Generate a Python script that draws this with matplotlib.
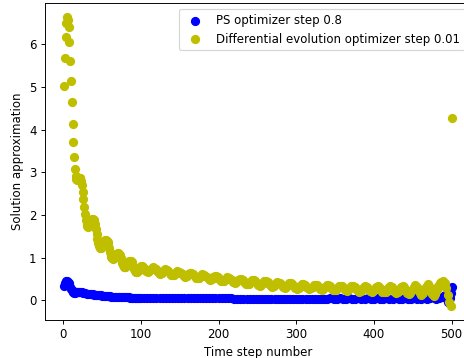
import matplotlib
matplotlib.use("Agg")
import matplotlib.pyplot as plt

# PS optimizer (blue)
ps_steps = list(range(1, 21)) + list(range(22, 101, 2)) + list(range(104, 489, 4)) + list(range(490, 501))
ps_values = [
    0.35, 0.40, 0.43, 0.45, 0.45, 0.44, 0.41, 0.37, 0.32, 0.28,
    0.24, 0.21, 0.19, 0.18, 0.18, 0.19, 0.20, 0.20, 0.20, 0.19,
    # 22..100 step 2
    .20, .19, .18, .17, .16, .155, .15, .15, .145, .14,
    .13, .125, .12, .12, .115, .11, .105, .10, .10, .095,
    .09, .09, .088, .085, .083, .08, .078, .076, .075, .073,
    .072, .07, .068, .067, .065, .064, .063, .062, .06, .06,
    # 104..200 step 4
    .060, .059, .058, .057, .056, .056, .055, .055, .054, .054, .053, .053, .052,
    .052, .051, .051, .050, .050, .050, .049, .049, .049, .048, .048, .048,
    # 204..300
    .048, .047, .047, .047, .046, .046, .046, .046, .045, .045, .045, .045, .044,
    .044, .044, .044, .044, .043, .043, .043, .043, .043, .043, .042, .042,
    # 304..400
    .042, .045, .040, .043, .046, .040, .042, .046, .040, .043, .047, .039, .042,
    .047, .039, .043, .048, .038, .042, .048, .038, .043, .049, .037, .042,
    # 404..488
    .050, .036, .042, .051, .035, .043, .053, .034, .044, .056, .032,
    .045, .06, .03, .046, .065, .028, .05, .07, .025, .055, .08,
    # 490..500
    .10, .12, .11, .07, .03, -.01, -.03, -.01, .06, .18, .31,
]

# Differential evolution optimizer (yellow)
de_steps = list(range(1, 101)) + list(range(101, 500, 2)) + [500]
de_values = [
    5.03, 5.67, 6.16, 6.49, 6.63, 6.58, 6.41, 6.06, 5.62, 5.14,
    4.64, 4.14, 3.71, 3.35, 3.08, 2.92, 2.85, 2.83, 2.85, 2.88,
    2.88, 2.86, 2.80, 2.70, 2.55, 2.37, 2.18, 2.02, 1.88, 1.79,
    1.74, 1.73, 1.76, 1.80, 1.85, 1.89, 1.91, 1.91, 1.89, 1.85,
    1.78, 1.68, 1.56, 1.45, 1.35, 1.28, 1.24, 1.23, 1.25, 1.29,
    1.33, 1.37, 1.40, 1.42, 1.42, 1.40, 1.36, 1.30, 1.22, 1.14,
    1.07, 1.02, 0.99, 0.98, 0.99, 1.02, 1.05, 1.08, 1.10, 1.12,
    1.12, 1.10, 1.06, 1.00, 0.93, 0.87, 0.82, 0.79, 0.78, 0.79,
    0.81, 0.84, 0.87, 0.90, 0.92, 0.93, 0.92, 0.89, 0.84, 0.78,
    0.73, 0.69, 0.67, 0.66, 0.67, 0.69, 0.72, 0.75, 0.78, 0.80,
    # 101..499 step 2
    .80, .78, .73, .68, .66, .68, .73, .78,
    .755, .736, .69, .644, .625, .644, .69, .736,
    .71, .693, .65, .607, .59, .607, .65, .693,
    .67, .653, .61, .567, .55, .567, .61, .653,
    .635, .618, .575, .532, .515, .532, .575, .618,
    .60, .583, .54, .497, .48, .497, .54, .583,
    .565, .548, .505, .462, .445, .462, .505, .548,
    .53, .513, .47, .427, .41, .427, .47, .513,
    .50, .483, .44, .397, .38, .397, .44, .483,
    .47, .453, .41, .367, .35, .367, .41, .453,
    .445, .428, .385, .342, .325, .342, .385, .428,
    .42, .403, .36, .317, .30, .317, .36, .403,
    .40, .383, .34, .297, .28, .297, .34, .383,
    .385, .368, .325, .282, .265, .282, .325, .368,
    .37, .353, .31, .267, .25, .267, .31, .353,
    .355, .338, .295, .252, .235, .252, .295, .338,
    .35, .331, .285, .239, .22, .239, .285, .331,
    .34, .321, .275, .229, .21, .229, .275, .321,
    .335, .315, .265, .215, .195, .215, .265, .315,
    .33, .31, .26, .21, .19, .21, .26, .31,
    .335, .312, .255, .198, .175, .198, .255, .312,
    .34, .314, .25, .186, .16, .186, .25, .314,
    .355, .323, .245, .167, .135, .167, .245, .323,
    .38, .339, .24, .141, .10, .141, .24, .339,
    .40, .44, .45, .42, .30, .12, -.03, -.12,
    # 500
    4.28,
]

dpi = 85
fig = plt.figure(figsize=(464 / dpi, 358 / dpi), dpi=dpi)
ax = fig.add_axes([0.0963, 0.1061, 0.9187, 0.8855])

ax.scatter(ps_steps, ps_values, c='b', s=46, label='PS optimizer step 0.8')
ax.scatter(de_steps, de_values, c='y', s=46, label='Differential evolution optimizer step 0.01')

ax.set_xlabel('Time step number')
ax.set_ylabel('Solution approximation')
ax.legend(loc='upper right')

fig.savefig('out.png', dpi=dpi)
